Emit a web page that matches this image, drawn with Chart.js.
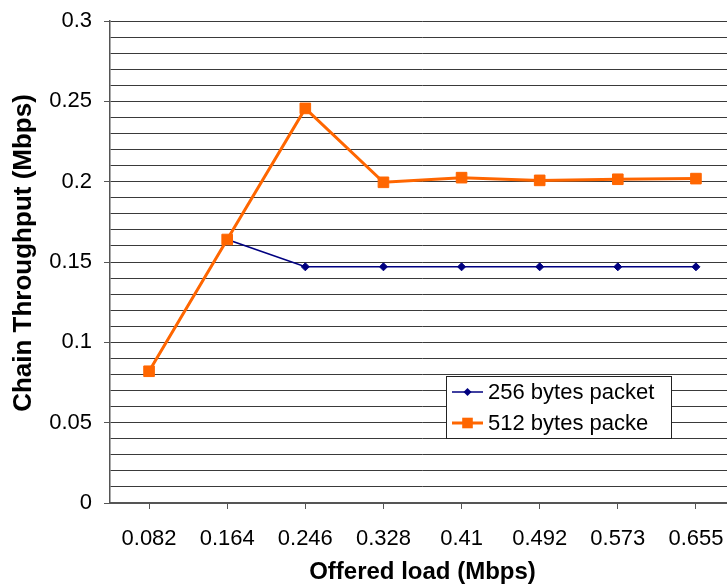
<!DOCTYPE html>
<html>
<head>
<meta charset="utf-8">
<script src="https://cdn.jsdelivr.net/npm/chart.js@4/dist/chart.umd.min.js"></script>
<style>
  html, body { margin: 0; padding: 0; background: #fff; overflow: hidden; }
  #wrap { width: 750px; height: 587px; }
</style>
</head>
<body>
<div id="wrap"><canvas id="c" width="750" height="587"></canvas></div>
<script>
// Offered load categories (Mbps)
const offeredLoad = ['0.082', '0.164', '0.246', '0.328', '0.41', '0.492', '0.573', '0.655'];
// Chain throughput (Mbps) per packet size
const throughput256 = [0.082, 0.164, 0.147, 0.147, 0.147, 0.147, 0.147, 0.147];
const throughput512 = [0.082, 0.164, 0.2456, 0.1996, 0.2025, 0.2008, 0.2015, 0.2019];
// Labelled ticks on the throughput axis
const yMajorTicks = [0, 0.05, 0.1, 0.15, 0.2, 0.25, 0.3];
const seriesNames = ['256 bytes packet', '512 bytes packe'];
const yAxisTitle = 'Chain Throughput (Mbps)';

const FONT = '"Liberation Sans", Arial, sans-serif';

function isMajor(v) {
  return yMajorTicks.some(t => Math.abs(t - v) < 1e-9);
}

// Boxed legend drawn inside the plot area
const boxLegend = {
  id: 'boxLegend',
  afterDraw(chart, args, opts) {
    const ctx = chart.ctx;
    const ds = chart.data.datasets;
    ctx.save();
    ctx.fillStyle = '#fff';
    ctx.fillRect(opts.x, opts.y, opts.width, opts.height);
    ctx.strokeStyle = '#222';
    ctx.lineWidth = 1;
    ctx.strokeRect(opts.x + 0.5, opts.y + 0.5, opts.width, opts.height);
    ctx.font = '22px ' + FONT;
    ctx.textBaseline = 'middle';
    ds.forEach((d, i) => {
      const cy = opts.y + opts.rowTop + i * opts.rowGap;
      const x0 = opts.x + 6, x1 = opts.x + 37;
      ctx.strokeStyle = d.borderColor;
      ctx.lineWidth = d.borderWidth;
      ctx.beginPath();
      ctx.moveTo(x0, cy);
      ctx.lineTo(x1, cy);
      ctx.stroke();
      const mx = (x0 + x1) / 2;
      ctx.fillStyle = d.pointBackgroundColor;
      ctx.beginPath();
      if (d.pointStyle === 'rect') {
        const s = d.pointRadius * Math.SQRT1_2;
        ctx.rect(mx - s, cy - s, 2 * s, 2 * s);
      } else {
        const r = d.pointRadius;
        ctx.moveTo(mx, cy - r);
        ctx.lineTo(mx + r, cy);
        ctx.lineTo(mx, cy + r);
        ctx.lineTo(mx - r, cy);
        ctx.closePath();
      }
      ctx.fill();
      ctx.fillStyle = '#000';
      ctx.fillText(d.label, opts.x + 42, cy + 1);
    });
    ctx.restore();
  }
};

// Rotated title beside the throughput axis
const yTitle = {
  id: 'yTitle',
  afterDraw(chart, args, opts) {
    const ctx = chart.ctx;
    const a = chart.chartArea;
    ctx.save();
    ctx.translate(opts.x, (a.top + a.bottom) / 2 + opts.shift);
    ctx.rotate(-Math.PI / 2);
    ctx.font = 'bold 26px ' + FONT;
    ctx.fillStyle = '#000';
    ctx.textAlign = 'center';
    ctx.textBaseline = 'middle';
    ctx.fillText(opts.text, 0, 0);
    ctx.restore();
  }
};

new Chart(document.getElementById('c'), {
  type: 'line',
  data: {
    labels: offeredLoad,
    datasets: [
      {
        label: seriesNames[0],
        data: throughput256,
        borderColor: '#000080',
        backgroundColor: '#000080',
        pointBackgroundColor: '#000080',
        pointBorderColor: '#000080',
        borderWidth: 1.5,
        pointStyle: 'rectRot',
        pointRadius: 4,
        pointBorderWidth: 1,
        tension: 0,
        order: 1
      },
      {
        label: seriesNames[1],
        data: throughput512,
        borderColor: '#FF6600',
        backgroundColor: '#FF6600',
        pointBackgroundColor: '#FF6600',
        pointBorderColor: '#FF6600',
        borderWidth: 3,
        pointStyle: 'rect',
        pointRadius: 7.5,
        pointBorderWidth: 1,
        tension: 0,
        order: 0
      }
    ]
  },
  options: {
    responsive: false,
    animation: false,
    events: [],
    layout: { padding: { left: 0, right: 15, top: 0, bottom: 0 } },
    plugins: {
      legend: { display: false },
      tooltip: { enabled: false },
      boxLegend: { x: 446, y: 376, width: 225, height: 62, rowTop: 16, rowGap: 31 },
      yTitle: { text: yAxisTitle, x: 24, shift: -9 }
    },
    scales: {
      x: {
        type: 'category',
        offset: true,
        grid: {
          display: true,
          drawOnChartArea: false,
          drawTicks: true,
          tickLength: 6,
          color: '#555',
          tickColor: '#555'
        },
        border: { display: true, color: '#555', width: 2 },
        ticks: {
          color: '#000',
          font: { family: FONT, size: 22 },
          padding: 17,
          maxRotation: 0,
          autoSkip: false
        },
        title: {
          display: true,
          text: 'Offered load (Mbps)',
          color: '#000',
          font: { family: FONT, size: 24, weight: 'bold' },
          padding: { top: 6, bottom: 0 }
        },
        afterFit(scale) { scale.height = 84; }
      },
      y: {
        min: 0,
        max: 0.3,
        grid: {
          color: '#3a3a3a',
          lineWidth: 1,
          drawTicks: true,
          tickLength: 6,
          tickColor: ctx => (ctx.tick && isMajor(ctx.tick.value)) ? '#555' : 'rgba(0,0,0,0)'
        },
        border: { display: true, color: '#555', width: 1.5 },
        ticks: {
          stepSize: 0.01,
          autoSkip: false,
          color: '#000',
          font: { family: FONT, size: 22 },
          padding: 12,
          callback: v => isMajor(v) ? String(Math.round(v * 100) / 100) : ''
        },
        title: { display: false },
        afterFit(scale) {
          scale.width = 110;
          scale.paddingTop = 21;
        }
      }
    }
  },
  plugins: [boxLegend, yTitle]
});
</script>
</body>
</html>
